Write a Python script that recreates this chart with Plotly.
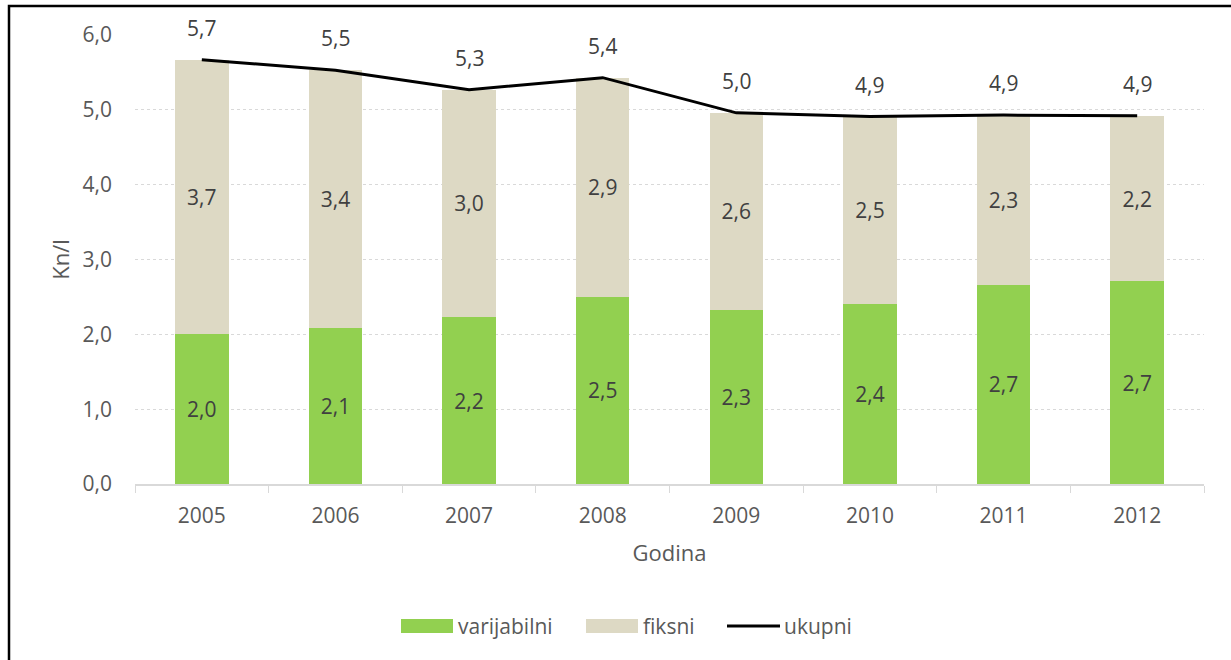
import plotly.graph_objects as go

# Troškovi po litri (Kn/l) po godinama
godine = ["2005", "2006", "2007", "2008", "2009", "2010", "2011", "2012"]
varijabilni = [2.00, 2.09, 2.23, 2.50, 2.33, 2.41, 2.66, 2.71]
fiksni = [3.67, 3.44, 3.04, 2.93, 2.63, 2.50, 2.27, 2.21]
ukupni = [round(v + f, 2) for v, f in zip(varijabilni, fiksni)]

y_ticks = [0, 1, 2, 3, 4, 5, 6]

FONT = "Open Sans"
TICK_COLOR = "#595959"
LABEL_COLOR = "#404040"
FS = 21
TITLE_FS = 22
GREEN = "#92D050"
BEIGE = "#DDD9C4"

W, H = 1231, 660
ML, MR, MT, MB = 135, 27, 35, 176
PW, PH = W - ML - MR, H - MT - MB


def px(x):
    """Horizontal pixel -> paper coordinate."""
    return (x - ML) / PW


def py(y):
    """Vertical pixel (from top) -> paper coordinate."""
    return (H - MB - y) / PH


def fmt(v):
    return f"{v:.1f}".replace(".", ",")


fig = go.Figure()

fig.add_trace(go.Bar(
    name="varijabilni", x=godine, y=varijabilni,
    marker=dict(color=GREEN, line=dict(width=0)),
    text=[fmt(v) for v in varijabilni], textposition="inside",
    insidetextanchor="middle", textangle=0, constraintext="none",
    textfont=dict(family=FONT, size=FS, color=LABEL_COLOR),
))
fig.add_trace(go.Bar(
    name="fiksni", x=godine, y=fiksni,
    marker=dict(color=BEIGE, line=dict(width=0)),
    text=[fmt(v) for v in fiksni], textposition="inside",
    insidetextanchor="middle", textangle=0, constraintext="none",
    textfont=dict(family=FONT, size=FS, color=LABEL_COLOR),
))
fig.add_trace(go.Scatter(
    name="ukupni", x=godine, y=ukupni, mode="lines",
    line=dict(color="#000000", width=3),
))

# Oznake ukupnih vrijednosti iznad linije (x = indeks kategorije)
for i, u in enumerate(ukupni):
    fig.add_annotation(
        x=i, y=u, text=fmt(u), showarrow=False, yshift=32,
        font=dict(family=FONT, size=FS, color=LABEL_COLOR),
    )

# Legenda: uzorci boja i nazivi serija
legend_items = [
    ("varijabilni", "rect", GREEN, 401),
    ("fiksni", "rect", BEIGE, 586),
    ("ukupni", "line", "#000000", 727),
]
LEG_Y = 626
for name, kind, color, x0 in legend_items:
    if kind == "rect":
        fig.add_shape(type="rect", xref="paper", yref="paper",
                      x0=px(x0), x1=px(x0 + 52), y0=py(LEG_Y + 7), y1=py(LEG_Y - 7),
                      fillcolor=color, line=dict(width=0))
    else:
        fig.add_shape(type="line", xref="paper", yref="paper",
                      x0=px(x0), x1=px(x0 + 53), y0=py(LEG_Y), y1=py(LEG_Y),
                      line=dict(color=color, width=3))
    fig.add_annotation(
        xref="paper", yref="paper", x=px(x0 + 55), y=py(LEG_Y),
        xanchor="left", yanchor="middle", text=name, showarrow=False,
        font=dict(family=FONT, size=FS, color=TICK_COLOR),
    )

# Okvir grafikona
fig.add_shape(
    type="rect", xref="paper", yref="paper",
    x0=px(9), x1=px(W + 10), y0=py(H + 10), y1=py(6),
    line=dict(color="#000000", width=2.5), fillcolor="rgba(0,0,0,0)",
    layer="above",
)

fig.update_layout(
    width=W, height=H,
    barmode="stack", bargap=0.6,
    separators=",.",
    paper_bgcolor="white", plot_bgcolor="white",
    margin=dict(l=ML, r=MR, t=MT, b=MB),
    font=dict(family=FONT, size=FS, color=TICK_COLOR),
    showlegend=False,
    xaxis=dict(
        type="category", range=[-0.5, len(godine) - 0.5],
        title=dict(text="Godina", font=dict(family=FONT, size=TITLE_FS, color=TICK_COLOR), standoff=18),
        showgrid=False, showline=True, linecolor="#D9D9D9", linewidth=1.5,
        ticks="outside", tickson="boundaries", ticklen=7, tickcolor="#D9D9D9",
        tickfont=dict(family=FONT, size=FS, color=TICK_COLOR),
        ticklabelstandoff=12, tickangle=0,
    ),
    yaxis=dict(
        title=dict(text="Kn/l", font=dict(family=FONT, size=TITLE_FS, color=TICK_COLOR), standoff=6),
        range=[0, 6], tickvals=y_ticks, tickformat=".1f",
        showgrid=True, gridcolor="#D9D9D9", griddash="dot", gridwidth=1,
        zeroline=False, showline=False, ticks="",
        tickfont=dict(family=FONT, size=FS, color=TICK_COLOR),
        ticklabelstandoff=22,
    ),
)

fig.write_html("out.html")
